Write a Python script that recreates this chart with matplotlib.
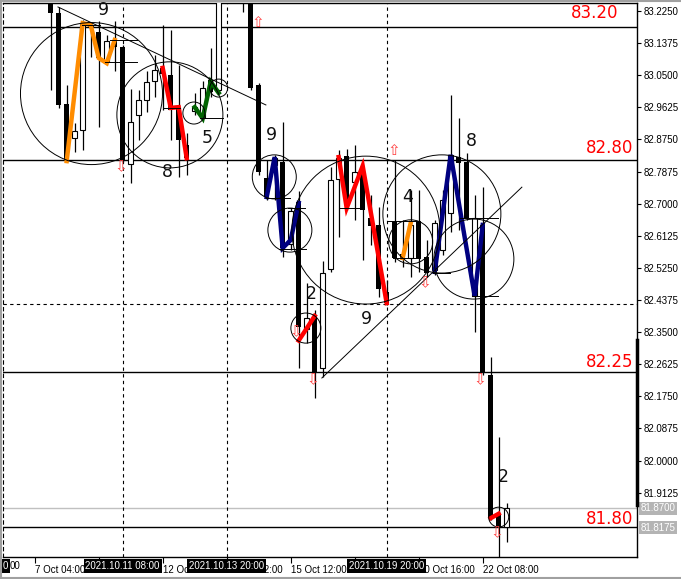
import matplotlib
matplotlib.use("Agg")
import matplotlib.pyplot as plt
import matplotlib.transforms as mtransforms
from matplotlib.patches import Ellipse
from matplotlib.lines import Line2D
import numpy as np

# candle data (one entry per bar)
opens = [83.269, 83.220, 82.972, 82.879, 82.901, 83.181, 83.168, 83.086, 83.146, 83.127,
         82.808, 82.942, 82.983, 83.034, 83.070, 83.051, 82.963, 82.860, 82.953, 82.933,
         83.037, 83.010, 83.364, 83.337, 83.310, 83.269, 83.023, 82.770, 82.805, 82.814,
         82.590, 82.705, 82.358, 82.394, 82.252, 82.522, 82.767, 82.830, 82.759, 82.794,
         82.661, 82.642, 82.459, 82.650, 82.563, 82.552, 82.650, 82.555, 82.519, 82.574,
         82.675, 82.827, 82.814, 82.448, 82.642, 82.233, 81.852, 81.819]
highs = [83.282, 83.236, 83.023, 82.920, 83.201, 83.195, 83.198, 83.160, 83.198, 83.132,
         83.012, 83.010, 83.062, 83.105, 83.187, 83.173, 83.078, 82.893, 83.001, 83.034,
         83.124, 83.337, 83.419, 83.391, 83.364, 83.282, 83.029, 82.819, 82.833, 82.923,
         82.688, 82.735, 82.484, 82.410, 82.544, 82.800, 82.846, 82.849, 82.860, 82.805,
         82.724, 82.691, 82.492, 82.819, 82.656, 82.737, 82.737, 82.601, 82.656, 82.737,
         82.996, 82.933, 82.838, 82.724, 82.745, 82.282, 82.064, 81.884]
lows = [83.010, 82.961, 82.814, 82.841, 82.846, 83.100, 82.909, 83.078, 83.062, 82.814,
        82.756, 82.874, 82.950, 82.991, 82.955, 82.874, 82.773, 82.778, 82.942, 82.928,
        82.991, 83.004, 83.282, 83.277, 83.222, 83.010, 82.778, 82.710, 82.710, 82.555,
        82.574, 82.252, 82.320, 82.170, 82.228, 82.514, 82.609, 82.683, 82.655, 82.546,
        82.587, 82.446, 82.424, 82.541, 82.527, 82.500, 82.514, 82.500, 82.506, 82.560,
        82.623, 82.628, 82.656, 82.350, 82.233, 81.838, 81.737, 81.778]
closes = [83.220, 82.969, 82.819, 82.898, 83.190, 83.187, 83.097, 83.143, 83.127, 82.819,
          82.923, 82.983, 83.032, 83.064, 83.053, 82.955, 82.874, 82.824, 82.963, 83.015,
          83.004, 83.310, 83.337, 83.310, 83.269, 83.015, 82.786, 82.718, 82.824, 82.579,
          82.680, 82.364, 82.388, 82.239, 82.511, 82.765, 82.824, 82.702, 82.786, 82.683,
          82.639, 82.467, 82.429, 82.552, 82.552, 82.642, 82.552, 82.511, 82.647, 82.710,
          82.833, 82.811, 82.661, 82.661, 82.239, 81.843, 81.819, 81.871]

# zigzag pattern legs: (colour, bar positions, prices)
zigzags = [
    ("#ff8c00", [2, 4, 5, 6, 7, 8], [82.816, 83.192, 83.187, 83.097, 83.083, 83.146]),
    ("#ff0000", [14, 15, 16, 17], [83.070, 82.961, 82.963, 82.824]),
    ("#006400", [18, 19, 20, 21], [82.963, 82.933, 83.032, 83.002]),
    ("#000080", [27, 28, 29, 30, 31], [82.718, 82.827, 82.579, 82.601, 82.702]),
    ("#ff0000", [31, 32, 33], [82.327, 82.360, 82.394]),
    ("#ff0000", [36, 37, 39, 42], [82.827, 82.688, 82.803, 82.429]),
    ("#ff8c00", [44, 45], [82.552, 82.647]),
    ("#000080", [48, 50, 53, 54], [82.514, 82.833, 82.448, 82.642]),
    ("#ff0000", [55, 56], [81.843, 81.855]),
]

# circles: centre bar, centre price, width in bars, height in price
circle_x = [5.1, 14.9, 17.9, 21.0, 27.95, 29.9, 39.4, 31.9, 48.9, 45.0, 52.9, 56.0]
circle_y = [83.000, 82.942, 82.947, 83.015, 82.773, 82.628, 82.628, 82.361, 82.672, 82.596, 82.549, 81.846]
circle_w = [17.75, 13.25, 2.75, 2.25, 5.5, 5.5, 18.5, 3.75, 14.75, 5.5, 10.0, 2.5]
circle_h = [0.387, 0.289, 0.060, 0.049, 0.120, 0.120, 0.403, 0.082, 0.322, 0.120, 0.218, 0.054]

# short horizontal pattern lines: x0, x1, price
short_lines = [(3.9, 6.2, 83.187), (7.4, 10.8, 83.146), (6.8, 10.8, 83.086),
               (14.0, 16.2, 82.961), (18.7, 21.5, 82.933), (26.9, 29.9, 82.715),
               (29.7, 31.8, 82.688), (28.5, 31.9, 82.576), (36.0, 38.9, 82.688),
               (42.0, 46.2, 82.653), (42.8, 46.2, 82.552), (47.8, 49.9, 82.511),
               (51.2, 55.9, 82.661), (52.7, 55.9, 82.448)]

# trend lines
trend_lines = [((0.91, 26.9), (83.236, 82.969)), ((33.9, 58.9), (82.225, 82.745))]

# wave count numbers
count_labels = ["9", "8", "5", "9", "2", "9", "4", "8", "2"]
count_x = [6.6, 14.54, 19.6, 27.6, 32.6, 39.5, 44.6, 52.6, 56.6]
count_y = [83.229, 82.786, 82.880, 82.887, 82.454, 82.386, 82.719, 82.870, 81.955]

# signal arrows
up_x = [25.9, 42.9]
up_y = [83.193, 82.846]
down_x = [8.75, 30.66, 32.75, 46.8, 53.7, 55.75]
down_y = [82.800, 82.351, 82.220, 82.484, 82.220, 81.802]

# horizontal levels and their labels
level_prices = [83.181, 82.818, 82.241, 81.818]
level_labels = ["83.20", "82.80", "82.25", "81.80"]
level_label_y = [83.220, 82.852, 82.269, 81.841]
level_label_x = [0.970, 0.9937, 0.9937, 0.9937]

# vertical separators with their date boxes
vline_bars = [9, 22, 42]
vline_labels = ["2021.10.11 08:00", "2021.10.13 20:00", "2021.10.19 20:00"]

# time axis (labels fully hidden under the date boxes are left blank)
time_ticks = [-2, 6, 14, 22, 30, 38, 46, 54]
time_labels = ["7 Oct 04:00", "", "12 Oct 04:00", "13 Oct 12:00",
               "15 Oct 12:00", "", "20 Oct 16:00", "22 Oct 08:00"]
price_ticks = [83.2250 - 0.0875 * k for k in range(16)]

fig = plt.figure(figsize=(6.81, 5.79), dpi=100)
ax = fig.add_axes([3 / 681, 22 / 579, 634 / 681, 554 / 579])
ax.set_xlim(-5.96, 73.29)
ax.set_ylim(81.7372, 83.2468)

# candles
x = np.arange(len(opens))
o, h, l, c = map(np.array, (opens, highs, lows, closes))
bull = c >= o
ax.vlines(x, l, h, color="black", lw=0.9, zorder=2)
ax.bar(x[bull], c[bull] - o[bull], bottom=o[bull], width=0.62,
       facecolor="white", edgecolor="black", lw=0.8, zorder=3)
ax.bar(x[~bull], o[~bull] - c[~bull], bottom=c[~bull], width=0.62,
       color="black", lw=0, zorder=3)

# pattern drawings
for col, zx, zy in zigzags:
    ax.plot(zx, zy, color=col, lw=3.2, solid_joinstyle="miter", zorder=4)
for cx, cy, cw, ch in zip(circle_x, circle_y, circle_w, circle_h):
    ax.add_patch(Ellipse((cx, cy), cw, ch, fill=False, edgecolor="black", lw=0.7, zorder=5))
for x0, x1, yy in short_lines:
    ax.plot([x0, x1], [yy, yy], color="black", lw=0.7, zorder=5)
for tx, ty in trend_lines:
    ax.plot(tx, ty, color="black", lw=0.7, zorder=5)
for s, cx, cy in zip(count_labels, count_x, count_y):
    ax.text(cx, cy, s, fontsize=12.5, color="#101010", ha="center", va="center", zorder=6)
for ux, uy in zip(up_x, up_y):
    ax.text(ux, uy, "\u21e7", fontsize=11, color="#ff4040", ha="center", va="center", zorder=6)
for dx, dy in zip(down_x, down_y):
    ax.text(dx, dy, "\u21e9", fontsize=11, color="#ff4040", ha="center", va="center", zorder=6)

# levels
for lp in level_prices:
    ax.axhline(lp, color="black", lw=1.0, zorder=1)
ax.axhline(81.871, color="#c0c0c0", lw=1.0, zorder=1)
ax.axhline(82.427, color="black", lw=0.8, ls=(0, (3, 3)), zorder=1)
trans_ay = mtransforms.blended_transform_factory(ax.transAxes, ax.transData)
for s, lx, ly in zip(level_labels, level_label_x, level_label_y):
    ax.text(lx, ly, s, transform=trans_ay, fontsize=12, color="red", ha="right", va="center", zorder=6)

# vertical separators
trans_xa = mtransforms.blended_transform_factory(ax.transData, ax.transAxes)
for vb, vl in zip(vline_bars, vline_labels):
    ax.axvline(vb, color="black", lw=0.8, ls=(0, (3, 3)), zorder=1)
    ax.text(vb, -0.0165, vl, transform=trans_xa, fontsize=7, family="Liberation Sans",
            color="white", ha="center", va="center", clip_on=False, zorder=10,
            bbox=dict(facecolor="black", edgecolor="none", pad=1.2))
ax.text(0.0, -0.0165, "0", transform=ax.transAxes, fontsize=7, family="Liberation Sans",
        color="white", ha="left", va="center", clip_on=False, zorder=10,
        bbox=dict(facecolor="black", edgecolor="none", pad=1.2))
ax.text(0.011, -0.0165, "00", transform=ax.transAxes, fontsize=7, family="Liberation Sans",
        color="black", ha="left", va="center", clip_on=False, zorder=9)

# price boxes on the scale
for pv in (81.8700, 81.8175):
    ax.text(1.006, pv, f"{pv:.4f}", transform=trans_ay, fontsize=7, family="Liberation Sans",
            color="white", ha="left", va="center", clip_on=False, zorder=10,
            bbox=dict(facecolor="#b4b4b4", edgecolor="none", pad=1.2))
ax.plot([73.29, 73.29], [82.329, 81.879], color="black", lw=2.5, clip_on=False, zorder=10)

# axes styling
ax.yaxis.tick_right()
ax.set_yticks(price_ticks)
ax.set_yticklabels([f"{p:.4f}" for p in price_ticks], fontsize=7, family="Liberation Sans")
ax.set_xticks(time_ticks)
ax.set_xticklabels(time_labels, fontsize=7, family="Liberation Sans")
for lbl in ax.get_xticklabels():
    lbl.set_ha("left")
ax.tick_params(axis="y", length=3, width=0.8, pad=1.5, direction="out")
ax.tick_params(axis="x", length=4, width=0.8, pad=2, direction="out")
for side in ("top", "right", "bottom"):
    ax.spines[side].set_linewidth(1.0)
ax.spines["left"].set_linestyle((0, (3, 3)))
ax.spines["left"].set_linewidth(0.8)

# window frame
for xs, ys in (([0, 1], [0.998, 0.998]), ([0.001, 0.001], [0, 1]), ([0, 1], [0.0015, 0.0015])):
    fig.add_artist(Line2D(xs, ys, color="#a0a0a0", lw=1.5, transform=fig.transFigure))

fig.savefig("out.png", dpi=100, facecolor="white")
